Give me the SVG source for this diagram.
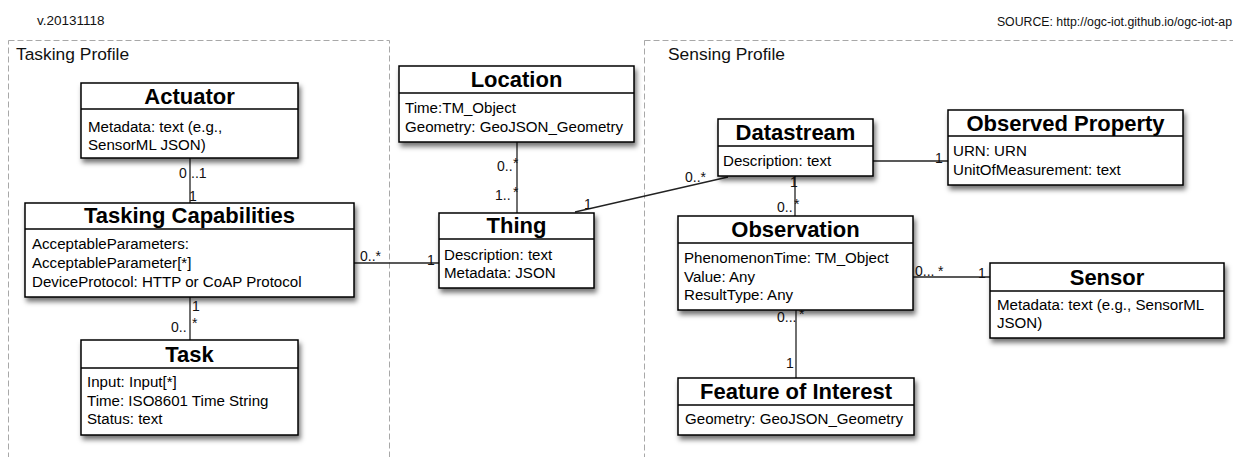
<svg xmlns="http://www.w3.org/2000/svg" width="1233" height="457" viewBox="0 0 1233 457">
  <style>
    .region { fill: none; stroke: #a8a8a8; stroke-width: 1; stroke-dasharray: 6 3; }
    .region-label { font-family: "Liberation Sans", Arial, sans-serif; font-size: 17.4px; fill: #111; }
    .box { fill: #fff; stroke: #000; stroke-width: 1.5; }
    .divider { stroke: #000; stroke-width: 1.5; }
    .title { font-family: "Liberation Sans", Arial, sans-serif; font-size: 22px; font-weight: bold; fill: #000; text-anchor: middle; }
    .attr { font-family: "Liberation Sans", Arial, sans-serif; font-size: 15.1px; fill: #000; }
    .conn { stroke: #222; stroke-width: 1.3; fill: none; }
    .mult { font-family: "Liberation Sans", Arial, sans-serif; font-size: 14px; fill: #111; }
    .meta { font-family: "Liberation Sans", Arial, sans-serif; fill: #111; }
  </style>
  <defs>
    <filter id="shadow" x="-10%" y="-20%" width="125%" height="150%">
      <feDropShadow dx="2" dy="4" stdDeviation="2.5" flood-color="#000" flood-opacity="0.55"/>
    </filter>
  </defs>

  <rect width="1233" height="457" fill="#fff"/>

  <!-- header texts -->
  <text class="meta" x="37" y="25" font-size="13.5">v.20131118</text>
  <text class="meta" x="1232" y="26" font-size="12.3" text-anchor="end">SOURCE: http://ogc-iot.github.io/ogc-iot-ap</text>

  <!-- profile regions -->
  <g id="tasking-profile">
    <rect class="region" x="8.5" y="40.5" width="381" height="440"/>
    <text class="region-label" x="16" y="60">Tasking Profile</text>
  </g>
  <g id="sensing-profile">
    <rect class="region" x="644.5" y="40.5" width="620" height="440"/>
    <text class="region-label" x="668" y="60">Sensing Profile</text>
  </g>

  <!-- connectors -->
  <g id="connectors">
    <line class="conn" x1="190" y1="158" x2="190" y2="203"/>
    <line class="conn" x1="190" y1="297" x2="190" y2="340"/>
    <line class="conn" x1="354" y1="263" x2="439" y2="263"/>
    <line class="conn" x1="517" y1="142" x2="517" y2="213"/>
    <line class="conn" x1="575" y1="212" x2="728" y2="177"/>
    <line class="conn" x1="873" y1="161" x2="948" y2="161"/>
    <line class="conn" x1="795" y1="176" x2="795" y2="216"/>
    <line class="conn" x1="913" y1="277" x2="990" y2="277"/>
    <line class="conn" x1="796" y1="310" x2="796" y2="378"/>

    <!-- multiplicities -->
    <text class="mult" x="179" y="178">0<tspan x="191">..1</tspan></text>
    <text class="mult" x="189" y="201">1</text>
    <text class="mult" x="192" y="311">1</text>
    <text class="mult" x="171" y="332">0..<tspan x="192" y="328">*</tspan></text>
    <text class="mult" x="360" y="261">0..*</text>
    <text class="mult" x="427" y="265">1</text>
    <text class="mult" x="497" y="171">0..<tspan x="513" y="168">*</tspan></text>
    <text class="mult" x="495" y="200">1..<tspan x="513" y="197">*</tspan></text>
    <text class="mult" x="584" y="209">1</text>
    <text class="mult" x="685" y="182">0..*</text>
    <text class="mult" x="935" y="163">1</text>
    <text class="mult" x="790" y="187">1</text>
    <text class="mult" x="777" y="212">0..<tspan x="794" y="209">*</tspan></text>
    <text class="mult" x="915" y="276">0...<tspan x="938">*</tspan></text>
    <text class="mult" x="978" y="278">1</text>
    <text class="mult" x="777" y="322">0...<tspan x="799" y="319">*</tspan></text>
    <text class="mult" x="786" y="368">1</text>
  </g>

  <!-- Tasking profile classes -->
  <g id="actuator">
    <rect class="box" x="81" y="83" width="217" height="75" filter="url(#shadow)"/>
    <line class="divider" x1="81" y1="109" x2="298" y2="109"/>
    <text class="title" x="189.5" y="104">Actuator</text>
    <text class="attr" x="88" y="132">Metadata: text (e.g.,</text>
    <text class="attr" x="88" y="150">SensorML JSON)</text>
  </g>

  <g id="tasking-capabilities">
    <rect class="box" x="25" y="203" width="329" height="94" filter="url(#shadow)"/>
    <line class="divider" x1="25" y1="229" x2="354" y2="229"/>
    <text class="title" x="189.5" y="223">Tasking Capabilities</text>
    <text class="attr" x="32" y="249">AcceptableParameters:</text>
    <text class="attr" x="32" y="268">AcceptableParameter[*]</text>
    <text class="attr" x="32" y="287">DeviceProtocol: HTTP or CoAP Protocol</text>
  </g>

  <g id="task">
    <rect class="box" x="81" y="340" width="217" height="95" filter="url(#shadow)"/>
    <line class="divider" x1="81" y1="368" x2="298" y2="368"/>
    <text class="title" x="189.5" y="362">Task</text>
    <text class="attr" x="87" y="387">Input: Input[*]</text>
    <text class="attr" x="87" y="406">Time: ISO8601 Time String</text>
    <text class="attr" x="87" y="424">Status: text</text>
  </g>

  <!-- Core classes -->
  <g id="location">
    <rect class="box" x="399" y="66" width="235" height="76" filter="url(#shadow)"/>
    <line class="divider" x1="399" y1="93" x2="634" y2="93"/>
    <text class="title" x="516.5" y="87">Location</text>
    <text class="attr" x="405" y="113">Time:TM_Object</text>
    <text class="attr" x="405" y="132">Geometry: GeoJSON_Geometry</text>
  </g>

  <g id="thing">
    <rect class="box" x="439" y="213" width="155" height="75" filter="url(#shadow)"/>
    <line class="divider" x1="439" y1="239" x2="594" y2="239"/>
    <text class="title" x="516.5" y="233">Thing</text>
    <text class="attr" x="444" y="260">Description: text</text>
    <text class="attr" x="444" y="278">Metadata: JSON</text>
  </g>

  <!-- Sensing profile classes -->
  <g id="datastream">
    <rect class="box" x="718" y="119" width="155" height="57" filter="url(#shadow)"/>
    <line class="divider" x1="718" y1="146" x2="873" y2="146"/>
    <text class="title" x="795.5" y="140">Datastream</text>
    <text class="attr" x="723" y="166">Description: text</text>
  </g>

  <g id="observed-property">
    <rect class="box" x="948" y="110" width="235" height="75" filter="url(#shadow)"/>
    <line class="divider" x1="948" y1="136" x2="1183" y2="136"/>
    <text class="title" x="1065.5" y="131">Observed Property</text>
    <text class="attr" x="953" y="156">URN: URN</text>
    <text class="attr" x="953" y="175">UnitOfMeasurement: text</text>
  </g>

  <g id="observation">
    <rect class="box" x="678" y="216" width="235" height="94" filter="url(#shadow)"/>
    <line class="divider" x1="678" y1="243" x2="913" y2="243"/>
    <text class="title" x="795.5" y="237">Observation</text>
    <text class="attr" x="684" y="263">PhenomenonTime: TM_Object</text>
    <text class="attr" x="684" y="282">Value: Any</text>
    <text class="attr" x="684" y="300">ResultType: Any</text>
  </g>

  <g id="sensor">
    <rect class="box" x="990" y="263" width="234" height="75" filter="url(#shadow)"/>
    <line class="divider" x1="990" y1="291" x2="1224" y2="291"/>
    <text class="title" x="1107" y="285">Sensor</text>
    <text class="attr" x="997" y="310">Metadata: text (e.g., SensorML</text>
    <text class="attr" x="997" y="328">JSON)</text>
  </g>

  <g id="feature-of-interest">
    <rect class="box" x="678" y="378" width="236" height="57" filter="url(#shadow)"/>
    <line class="divider" x1="678" y1="405" x2="914" y2="405"/>
    <text class="title" x="796" y="399">Feature of Interest</text>
    <text class="attr" x="685" y="424">Geometry: GeoJSON_Geometry</text>
  </g>
</svg>
